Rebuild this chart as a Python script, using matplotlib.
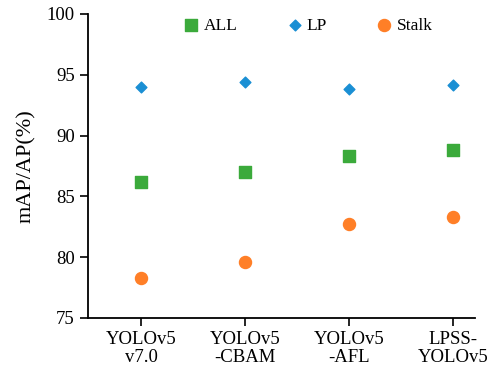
import matplotlib
matplotlib.use("Agg")
import matplotlib.pyplot as plt

models = ["YOLOv5\nv7.0", "YOLOv5\n-CBAM", "YOLOv5\n-AFL", "LPSS-\nYOLOv5"]
all_map = [86.2, 87.0, 88.3, 88.8]
lp_ap = [94.0, 94.4, 93.8, 94.2]
stalk_ap = [78.3, 79.6, 82.7, 83.3]

plt.rcParams['font.family'] = ['Liberation Serif', 'DejaVu Serif']

fig = plt.figure(figsize=(4.91, 3.70), dpi=100)
ax = fig.add_axes([88 / 491, 52 / 370, 387 / 491, 304 / 370])

x = range(len(models))
ax.scatter(x, all_map, marker='s', s=75, color='#3BAA3B', label='ALL', zorder=3)
ax.scatter(x, lp_ap, marker='D', s=30, color='#1A8FD4', label='LP', zorder=3)
ax.scatter(x, stalk_ap, marker='o', s=75, color='#FF7F27', label='Stalk', zorder=3)

ax.set_xlim(-0.51, 3.21)
ax.set_ylim(75, 100)
ax.set_yticks([75, 80, 85, 90, 95, 100])
ax.set_xticks(list(x))
ax.set_xticklabels(models, linespacing=1.05)
ax.tick_params(labelsize=13.5, direction='out', length=6, width=1.2)
ax.set_ylabel("mAP/AP(%)", fontsize=16, labelpad=8)

for s in ['top', 'right']:
    ax.spines[s].set_visible(False)
for s in ['left', 'bottom']:
    ax.spines[s].set_linewidth(1.3)

ax.legend(loc='upper center', bbox_to_anchor=(0.563, 1.04), ncol=3, frameon=False,
          fontsize=12.5, handletextpad=0.0, handlelength=1.4, columnspacing=2.6)

fig.savefig("out.png", dpi=100)
